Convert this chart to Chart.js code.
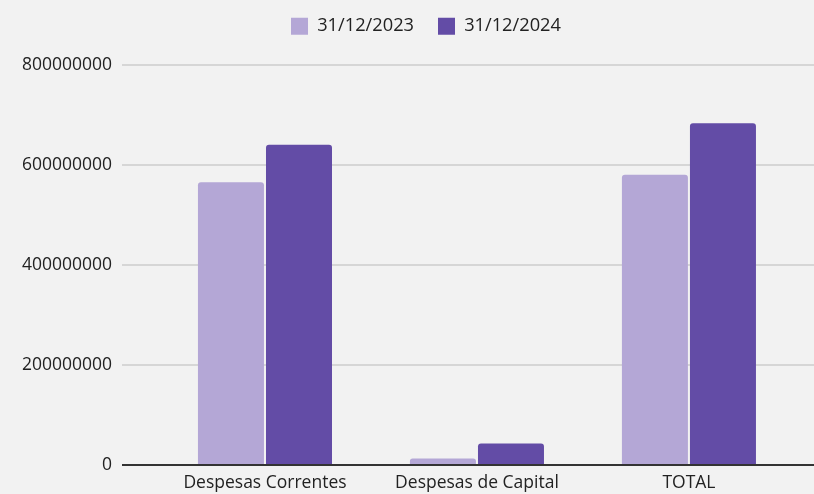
<!DOCTYPE html>
<html>
<head>
<meta charset="utf-8">
<script src="https://cdn.jsdelivr.net/npm/chart.js@4"></script>
<style>
  html, body { margin: 0; padding: 0; background: #f2f2f2; }
  #wrap { width: 814px; height: 494px; }
</style>
</head>
<body>
<div id="wrap"><canvas id="c" width="814" height="494"></canvas></div>
<script>
// Despesas por categoria, comparando os dois fechos de exercício
const categories = ['Despesas Correntes', 'Despesas de Capital', 'TOTAL'];
const seriesNames = ['31/12/2023', '31/12/2024'];
const values2023 = [566000000, 13000000, 581000000];
const values2024 = [641000000, 43000000, 684000000];
const yTicks = [0, 200000000, 400000000, 600000000, 800000000];

const FONT = "'Open Sans', 'Liberation Sans', sans-serif";
const toPoints = vals => vals.map((v, i) => ({ x: i, y: v }));

// extra space below the legend, and the legend nudged right of the canvas centre
const legendTweak = {
  id: 'legendTweak',
  afterInit(chart) {
    const lg = chart.legend;
    const fit = lg.fit;
    lg.fit = function () { fit.call(this); this.height += 20; };
    const draw = lg.draw;
    lg.draw = function () {
      const ctx = this.ctx;
      ctx.save();
      ctx.translate(19, 0);
      draw.call(this);
      ctx.restore();
    };
  }
};

new Chart(document.getElementById('c'), {
  type: 'bar',
  data: {
    datasets: [
      { label: seriesNames[0], data: toPoints(values2023), backgroundColor: '#b4a7d6',
        borderRadius: { topLeft: 3, topRight: 3 }, borderSkipped: 'bottom' },
      { label: seriesNames[1], data: toPoints(values2024), backgroundColor: '#634ca6',
        borderRadius: { topLeft: 3, topRight: 3 }, borderSkipped: 'bottom' }
    ]
  },
  plugins: [legendTweak],
  options: {
    responsive: false,
    animation: false,
    layout: { padding: { top: -7, right: 0, bottom: 0, left: 0 } },
    datasets: { bar: { categoryPercentage: 0.642, barPercentage: 0.97 } },
    plugins: {
      legend: {
        position: 'top',
        labels: {
          boxWidth: 17, boxHeight: 17, padding: 24,
          color: '#222', font: { family: FONT, size: 18.25 }
        }
      },
      tooltip: { enabled: false }
    },
    scales: {
      x: {
        type: 'linear',
        offset: false,
        min: -0.6745, max: 2.59,
        grid: { display: false },
        border: { display: false },
        afterBuildTicks: s => { s.ticks = categories.map((_, i) => ({ value: i })); },
        ticks: {
          autoSkip: false, maxRotation: 0, padding: 0,
          color: '#222', font: { family: FONT, size: 17.5 },
          callback: v => categories[v]
        }
      },
      y: {
        min: 0, max: 800000000,
        afterBuildTicks: s => { s.ticks = yTicks.map(v => ({ value: v })); },
        afterFit: s => { s.width = 122; },
        border: { display: false },
        grid: {
          drawTicks: false,
          lineWidth: 2,
          color: ctx => ctx.tick && ctx.tick.value === 0 ? '#333333' : '#d6d6d6'
        },
        ticks: {
          padding: 10, color: '#222', font: { family: FONT, size: 17.5 },
          callback: v => String(v)
        }
      }
    }
  }
});
</script>
</body>
</html>
